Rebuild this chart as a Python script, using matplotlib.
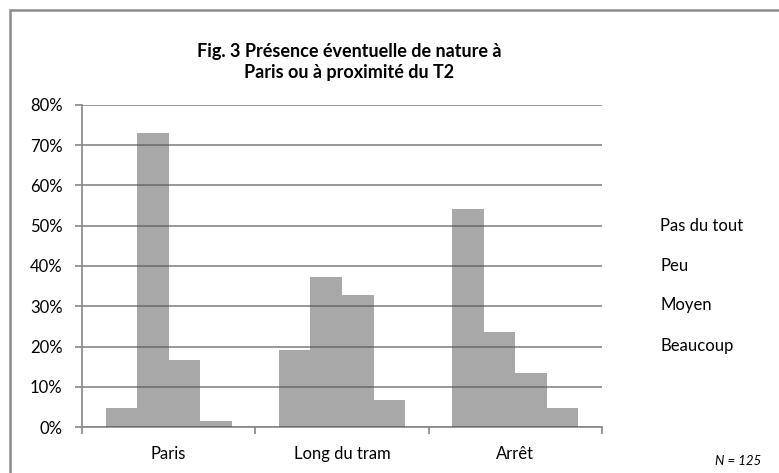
import numpy as np
import matplotlib.pyplot as plt
from matplotlib.patches import Rectangle

plt.rcParams['font.family'] = ['Lato', 'DejaVu Sans']

# data
categories = ["Paris", "Long du tram", "Arrêt"]
series_names = ["Pas du tout", "Peu", "Moyen", "Beaucoup"]
pas_du_tout = [4.7, 19.1, 54.1]
peu = [73.1, 37.3, 23.7]
moyen = [16.6, 32.8, 13.3]
beaucoup = [1.6, 6.7, 4.6]
y_ticks = [0, 10, 20, 30, 40, 50, 60, 70, 80]
title = "Fig. 3 Présence éventuelle de nature à\nParis ou à proximité du T2"
note = "N = 125"

series = [pas_du_tout, peu, moyen, beaucoup]

fig = plt.figure(figsize=(7.79, 4.73), dpi=100)
ax = fig.add_axes([82/779, 1-427/473, 520/779, 322/473])

x = np.arange(len(categories))
gap = 1.5
w = 1.0 / (len(series) + gap)
for i, vals in enumerate(series):
    off = (i - (len(series) - 1) / 2) * w
    # semi-transparent, gridlines show through like in the original
    ax.bar(x + off, vals, width=w, color='#585858', alpha=0.52,
           linewidth=0, zorder=3)

ax.set_xlim(-0.5, len(categories) - 0.5)
ax.set_ylim(0, 80)
ax.set_yticks(y_ticks)
ax.set_yticklabels([str(t) + "%" for t in y_ticks])
ax.yaxis.grid(True, color='#868686', linewidth=1.2, zorder=1)
ax.set_axisbelow(True)

ax.set_xticks(x)
ax.set_xticklabels(categories)
ax.set_xticks(np.arange(len(categories) + 1) - 0.5, minor=True)
ax.tick_params(axis='x', which='major', length=0, pad=14, labelsize=12)
ax.tick_params(axis='x', which='minor', length=5, color='#868686', width=1.2)
ax.tick_params(axis='y', length=5, color='#868686', width=1.2, pad=9, labelsize=12)

for s in ['top', 'right']:
    ax.spines[s].set_visible(False)
for s in ['left', 'bottom']:
    ax.spines[s].set_color('#868686')
    ax.spines[s].set_linewidth(1.2)

fig.text(349/779, 1-62/473, title, ha='center', va='center',
         fontsize=13, fontweight='bold', linespacing=1.3)

# legend shows only text in the original
legend_y = [226, 266, 305, 346]
for name, yy in zip(series_names, legend_y):
    fig.text(660/779, 1-yy/473, name, ha='left', va='center', fontsize=12)

fig.text(715/779, 1-461/473, note, ha='left', va='center',
         fontsize=9.5, style='italic')

fig.patches.append(Rectangle((10/779, -0.1), 1.2, 1-10/473+0.1,
                             transform=fig.transFigure, fill=False,
                             edgecolor='#8c8c8c', linewidth=1.8))

fig.savefig('out.png', dpi=100)
